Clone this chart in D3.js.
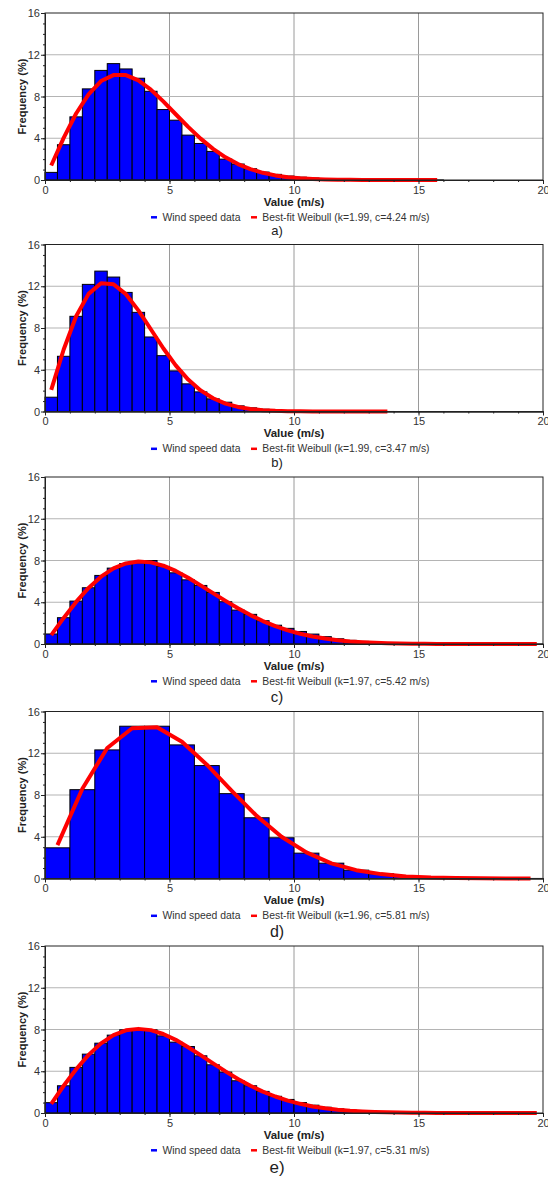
<!DOCTYPE html>
<html><head><meta charset="utf-8">
<script src="https://cdn.jsdelivr.net/npm/d3@7"></script>
<style>body{margin:0;background:#fff} text{font-family:"Liberation Sans",Arial,sans-serif}</style>
</head><body><svg id="c" width="548" height="1177"></svg>
<script>
// ---- data ----
const xTicks = [0, 5, 10, 15, 20];
const yTicks = [0, 4, 8, 12, 16];
const captions = ["a)", "b)", "c)", "d)", "e)"];
const seriesNames = ["Wind speed data", "Best-fit Weibull"];
const fitParams = ["(k=1.99, c=4.24 m/s)", "(k=1.99, c=3.47 m/s)", "(k=1.97, c=5.42 m/s)", "(k=1.96, c=5.81 m/s)", "(k=1.97, c=5.31 m/s)"];
const binWidths = [0.5, 0.5, 0.5, 1, 0.5];

const barsA = [0.73,3.38,6.05,8.73,10.5,11.15,10.64,9.75,8.5,6.75,5.73,4.3,3.5,2.74,2.0,1.53,1.08,0.76,0.54,0.38,0.27,0.19,0.13,0.09,0.06,0.04,0.03,0.02,0.015,0.01,0.01,0.005];
const curveA = [1.39,4.04,6.37,8.21,9.48,10.05,10.05,9.54,8.66,7.53,6.30,5.09,3.96,2.98,2.17,1.53,1.04,0.69,0.44,0.27,0.165,0.097,0.055,0.03,0.016,0.008,0.004,0.002,0.001,0.0005,0,0];

const barsB = [1.37,5.29,9.12,12.18,13.45,12.88,11.41,9.5,7.14,5.35,3.89,2.65,1.88,1.21,0.89,0.54,0.35,0.22,0.14,0.08,0.05,0.03,0.02,0.01,0.01,0.005,0.003,0.002];
const curveB = [2.07,5.94,9.12,11.27,12.28,12.19,11.24,9.69,7.88,6.06,4.42,3.06,2.02,1.27,0.76,0.44,0.24,0.126,0.063,0.03,0.014,0.006,0.002,0.001,0,0,0,0];

const barsC = [0.96,2.52,4.11,5.39,6.57,7.27,7.71,7.78,8.0,7.43,6.82,6.15,5.61,4.94,4.05,3.25,2.84,2.23,1.8,1.5,1.2,0.95,0.7,0.5,0.35,0.25,0.17,0.11,0.07,0.05,0.03,0.02,0.01,0.01,0.005,0.005,0.003,0.002,0.001,0.001];
const curveC = [0.85,2.50,4.03,5.37,6.45,7.24,7.72,7.91,7.82,7.50,7.00,6.35,5.62,4.87,4.13,3.42,2.77,2.20,1.71,1.30,0.98,0.72,0.52,0.36,0.25,0.17,0.115,0.075,0.048,0.03,0.019,0.011,0.007,0.004,0.002,0.001,0.001,0,0,0];

const barsD = [2.94,8.51,12.32,14.59,14.59,12.8,10.82,8.13,5.82,3.9,2.43,1.47,0.8,0.45,0.22,0.1,0.05,0.02,0.01,0.005];
const curveD = [3.2,8.6,12.5,14.4,14.5,13.1,10.9,8.4,6.0,4.0,2.5,1.45,0.8,0.42,0.2,0.09,0.04,0.015,0.005,0.002];

const barsE = [0.99,2.61,4.37,5.64,6.69,7.46,7.97,7.97,7.97,7.39,6.79,6.37,5.48,4.62,3.92,3.09,2.61,2.07,1.6,1.3,1.0,0.75,0.55,0.4,0.28,0.19,0.13,0.09,0.06,0.04,0.025,0.016,0.01,0.006,0.004,0.002,0.001,0.001,0,0];
const curveE = [0.885,2.61,4.19,5.57,6.67,7.46,7.92,8.06,7.94,7.57,7.01,6.30,5.54,4.76,3.99,3.26,2.61,2.05,1.58,1.19,0.88,0.63,0.45,0.31,0.21,0.14,0.093,0.06,0.038,0.023,0.014,0.008,0.005,0.003,0.001,0.001,0,0,0,0];

const allBars = [barsA, barsB, barsC, barsD, barsE];
const allCurves = [curveA, curveB, curveC, curveD, curveE];

// ---- layout ----
const L = 45, R = 543, H = 167;
const tops = [13, 244.5, 477, 711.5, 946];
const capSizes = [13, 13, 15, 16, 17];
const capOffsets = [51, 51.3, 52.7, 53.4, 54.7];

const svg = d3.select("#c");
const x = d3.scaleLinear().domain([0, 20]).range([L, R]);
const y = d3.scaleLinear().domain([0, 16]).range([H, 0]);

allBars.forEach((bars, p) => {
  const g = svg.append("g").attr("transform", `translate(0,${tops[p]})`);
  const w = binWidths[p];

  // grid
  g.append("g").selectAll("line").data(xTicks.slice(1, -1)).join("line")
    .attr("x1", d => x(d)).attr("x2", d => x(d)).attr("y1", 0).attr("y2", H)
    .attr("stroke", "#9a9a9a").attr("stroke-width", 1);
  g.append("g").selectAll("line").data(yTicks.slice(1, -1)).join("line")
    .attr("x1", L).attr("x2", R).attr("y1", d => y(d)).attr("y2", d => y(d))
    .attr("stroke", "#b4b4b4").attr("stroke-width", 1.2);

  // bars
  g.append("g").selectAll("rect").data(bars).join("rect")
    .attr("x", (d, i) => x(i * w)).attr("width", (d, i) => x((i + 1) * w) - x(i * w))
    .attr("y", d => y(d)).attr("height", d => y(0) - y(d))
    .attr("fill", "#0000ff").attr("stroke", "#000").attr("stroke-width", 1);

  // curve
  const line = d3.line().x((d, i) => x((i + 0.5) * w)).y(d => y(d));
  g.append("path").datum(allCurves[p]).attr("d", line)
    .attr("fill", "none").attr("stroke", "#ff0000").attr("stroke-width", 4)
    .attr("stroke-linejoin", "round");

  // frame
  g.append("rect").attr("x", L).attr("y", 0).attr("width", R - L).attr("height", H)
    .attr("fill", "none").attr("stroke", "#222").attr("stroke-width", 1);

  // axes
  const xa = g.append("g").attr("transform", `translate(0,${H})`)
    .call(d3.axisBottom(x).tickValues(xTicks).tickSize(4).tickSizeOuter(0).tickPadding(2));
  const xm = g.append("g").attr("transform", `translate(0,${H})`)
    .call(d3.axisBottom(x).tickValues(d3.range(0, 21)).tickSize(2).tickSizeOuter(0).tickFormat(""));
  const ya = g.append("g").attr("transform", `translate(${L},0)`)
    .call(d3.axisLeft(y).tickValues(yTicks).tickSize(4).tickSizeOuter(0).tickPadding(1));
  const ym = g.append("g").attr("transform", `translate(${L},0)`)
    .call(d3.axisLeft(y).tickValues(d3.range(0, 17)).tickSize(2).tickSizeOuter(0).tickFormat(""));
  [xa, xm, ya, ym].forEach(a => {
    a.select(".domain").attr("stroke", "#222");
    a.selectAll("line").attr("stroke", "#222");
    a.selectAll("text").attr("font-size", 11).attr("fill", "#333")
      .attr("font-family", '"Liberation Sans",Arial,sans-serif');
  });

  // axis titles
  g.append("text").attr("transform", `translate(22,${H / 2}) rotate(-90)`)
    .attr("text-anchor", "middle").attr("dy", "0.35em")
    .attr("font-size", 11).attr("font-weight", "bold").attr("fill", "#222")
    .text("Frequency (%)");
  g.append("text").attr("x", 294).attr("y", H + 21.8).attr("dy", "0.35em")
    .attr("text-anchor", "middle").attr("font-size", 11.5).attr("font-weight", "bold").attr("fill", "#222")
    .text("Value (m/s)");

  // legend
  const ly = H + 37.3;
  g.append("line").attr("x1", 151).attr("x2", 157).attr("y1", ly).attr("y2", ly)
    .attr("stroke", "#0000ff").attr("stroke-width", 2.5);
  g.append("text").attr("x", 162.5).attr("y", ly).attr("dy", "0.35em")
    .attr("font-size", 10.4).attr("fill", "#333").text(seriesNames[0]);
  g.append("line").attr("x1", 251).attr("x2", 257).attr("y1", ly).attr("y2", ly)
    .attr("stroke", "#ff0000").attr("stroke-width", 2.5);
  g.append("text").attr("x", 262.3).attr("y", ly).attr("dy", "0.35em")
    .attr("font-size", 10.4).attr("fill", "#333").text(seriesNames[1] + " " + fitParams[p]);

  // caption
  g.append("text").attr("x", 277).attr("y", H + capOffsets[p]).attr("dy", "0.32em")
    .attr("text-anchor", "middle").attr("font-family", '"Liberation Serif","Times New Roman",serif')
    .attr("font-size", capSizes[p]).attr("fill", "#222").text(captions[p]);
});
</script></body></html>
